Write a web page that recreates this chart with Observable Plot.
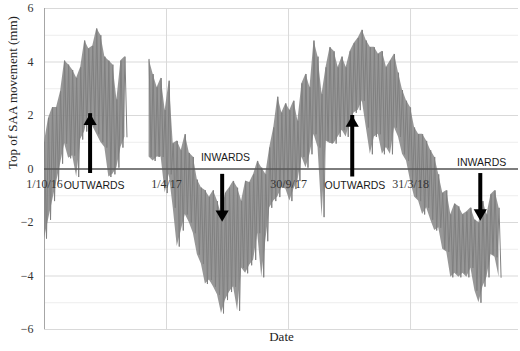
<!DOCTYPE html>
<html>
<head>
<meta charset="utf-8">
<script src="https://cdn.jsdelivr.net/npm/d3@7"></script>
<script src="https://cdn.jsdelivr.net/npm/@observablehq/plot@0.6"></script>
<style>
html,body{margin:0;padding:0;background:#fff;}
</style>
</head>
<body>
<div id="chart"></div>
<script>
// Regular sampling: one column every 6 days from 1 Oct 2016; each column = [high, low] of the trace
const startDate = "2016-10-01";
const stepDays = 6;
const highs = [1.0,1.9,2.3,2.3,2.9,4.05,3.9,3.7,3.4,3.8,4.8,4.5,4.6,5.25,5.0,4.2,4.05,3.9,2.6,4.05,4.2,
  null,null,null,null,null,
  4.1,3.55,3.05,3.4,2.2,3.3,0.95,1.05,0.7,1.3,0.6,0.45,-0.4,-0.7,-0.8,-1.05,-0.8,-1.2,-1.7,-0.9,-0.7,-0.45,-0.7,-1.2,
  -0.45,-0.5,-0.2,0.3,0.05,-0.2,0.8,1.55,2.7,2.1,2.45,2.2,2.55,1.8,3.2,3.55,3.05,4.8,4.2,2.8,
  3.8,4.55,4.4,3.8,4.2,3.8,4.4,4.7,4.9,5.2,4.8,4.55,4.55,4.3,4.4,3.8,4.05,4.3,3.6,2.95,
  2.55,2.3,1.55,1.3,1.3,1.05,0.7,0.45,-0.2,-0.9,-0.8,-1.7,-1.3,-1.4,-1.7,-1.6,-1.45,-1.9,-2.0,-1.2,
  -1.7,-0.95,-0.8,-1.45];
const lows = [-2.6,-1.9,-1.2,-0.5,0.2,0.95,0.4,0.5,-0.3,1.1,1.4,2.1,1.6,1.3,1.0,0.8,-0.3,-0.2,0.05,0.8,1.2,
  null,null,null,null,null,
  0.45,0.3,0.45,0.45,-0.9,-0.2,-1.45,-2.9,-2.3,-1.7,-2.0,-2.4,-3.2,-3.55,-4.3,-4.15,-4.4,-4.7,-5.4,-4.9,-4.6,-4.4,-5.3,-3.7,
  -3.9,-3.6,-3.4,-2.4,-4.05,-2.7,-1.45,-1.2,-1.05,-0.7,-0.75,-1.2,-0.75,-0.45,0.45,0.05,0.55,1.3,0.8,-1.8,
  1.05,0.95,0.95,1.2,1.45,1.2,1.8,2.1,2.2,2.55,1.55,0.55,1.2,1.3,0.55,0.8,0.55,1.55,1.2,0.55,
  0.3,-0.45,-1.05,-1.2,-1.7,-1.45,-1.9,-2.3,-2.2,-3.0,-3.1,-4.05,-3.9,-4.05,-3.9,-4.05,-3.7,-4.55,-5.0,-4.4,
  -4.05,-3.2,-3.3,-4.05];

const xDomain = ["2016-10-01", "2018-09-08"];
const yTicks = [-6,-4,-2,0,2,4,6];
const yMinor = [-5,-3,-1,1,3,5];
const tickDates = ["2016-10-01","2017-04-01","2017-09-30","2018-03-31"];
const tickLabels = ["1/10/16","1/4/17","30/9/17","31/3/18"];

const arrowDates = ["2016-12-08","2017-06-23","2018-01-03","2018-07-13"];
const arrowFrom = [0.13, -0.2, 0.0, -0.17];
const arrowTo = [2.07, -1.97, 2.0, -1.93];

const noteTexts = ["OUTWARDS","INWARDS","OUTWARDS","INWARDS"];
const noteDates = ["2016-12-14","2017-06-28","2018-01-07","2018-07-15"];
const noteValues = [-0.62, 0.43, -0.62, 0.24];

const yTitle = "Top of SAA movement (mm)";
const xTitle = "Date";

// ---- build tables ----
const t0 = new Date(startDate + "T00:00:00Z");
const day = 864e5;
const cols = highs.map((h, i) => ({
  date: new Date(+t0 + i * stepDays * day),
  hi: h, lo: lows[i]
}));
const trace = [];
cols.forEach((c, i) => {
  trace.push({date: c.date, v: c.hi});
  trace.push({date: new Date(+c.date + stepDays / 2 * day), v: c.lo});
});
const parse = s => new Date(s + "T00:00:00Z");
const arrows = arrowDates.map((d, i) => ({date: parse(d), from: arrowFrom[i], to: arrowTo[i], up: arrowTo[i] > arrowFrom[i]}));
const notes = noteTexts.map((t, i) => ({text: t, date: parse(noteDates[i]), v: noteValues[i]}));
const xticks = tickDates.map((d, i) => ({date: parse(d), label: tickLabels[i]}));

const serif = "'Liberation Serif', 'Times New Roman', serif";
const sans = "'Liberation Sans', Arial, sans-serif";

const chart = Plot.plot({
  width: 520,
  height: 351,
  marginLeft: 44,
  marginRight: 2,
  marginTop: 8,
  marginBottom: 22,
  style: {fontFamily: serif, fontSize: "12px", background: "#fff", color: "#333"},
  x: {type: "utc", domain: xDomain.map(parse), axis: null},
  y: {domain: [-6, 6], axis: null},
  marks: [
    Plot.ruleY(yMinor, {stroke: "#ededed", strokeWidth: 1}),
    Plot.ruleY(yTicks, {stroke: "#d9d9d9", strokeWidth: 1}),
    Plot.ruleX(xticks, {x: "date", stroke: "#d9d9d9", strokeWidth: 1}),
    Plot.ruleX([xDomain[0]].map(parse), {stroke: "#a6a6a6", strokeWidth: 1}),
    Plot.areaY(cols, {x: "date", y1: "lo", y2: "hi", fill: "#858585", fillOpacity: 0.85, curve: "linear"}),
    Plot.line(trace, {x: "date", y: "v", stroke: "#808080", strokeWidth: 1}),
    Plot.ruleY([0], {stroke: "#595959", strokeWidth: 1.3}),
    Plot.axisY(yTicks, {tickSize: 0, tickPadding: 11, fontSize: 12, fontFamily: serif, fill: "#333", label: null}),
    Plot.text(xticks, {x: "date", y: 0, text: "label", dy: 15, fontSize: 12, fontFamily: serif, fill: "#333"}),
    Plot.text([yTitle], {frameAnchor: "left", rotate: -90, dx: -32, fontSize: 13, fontFamily: serif, fill: "#222"}),
    Plot.text([xTitle], {frameAnchor: "bottom", dy: 11, fontSize: 13, fontFamily: serif, fill: "#222"}),
    // arrows
    Plot.ruleX(arrows.filter(d => d.up), {x: "date", y1: "from", y2: "to", stroke: "#000", strokeWidth: 4, insetTop: 8}),
    Plot.ruleX(arrows.filter(d => !d.up), {x: "date", y1: "from", y2: "to", stroke: "#000", strokeWidth: 4, insetBottom: 8}),
    Plot.dot(arrows.filter(d => d.up), {x: "date", y: "to", symbol: "triangle", r: 4.9, fill: "#000", stroke: null, dy: 7.5}),
    Plot.dot(arrows.filter(d => !d.up), {x: "date", y: "to", symbol: "triangle", r: 4.9, fill: "#000", stroke: null, rotate: 180, dy: -7.5}),
    Plot.text(notes, {x: "date", y: "v", text: "text", fontSize: 10.5, fontFamily: sans, fill: "#1a1a1a"})
  ]
});
document.getElementById("chart").appendChild(chart);
</script>
</body>
</html>
